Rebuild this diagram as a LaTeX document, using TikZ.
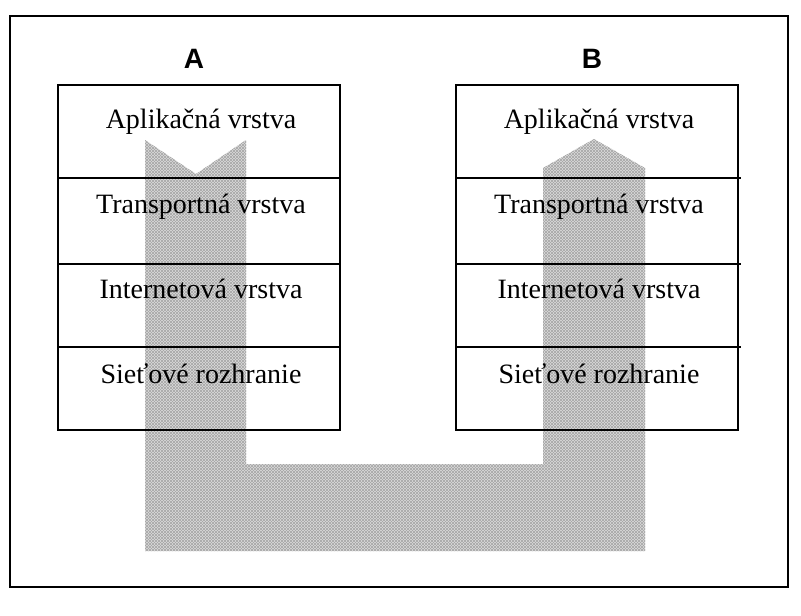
\documentclass[tikz,border=0pt]{standalone}
\usepackage{fontspec}
\setmainfont{Liberation Serif}
\newfontfamily\headfont{Liberation Sans}
\usetikzlibrary{patterns}
\begin{document}
\begin{tikzpicture}[x=1pt,y=-1pt,
    cell/.style={draw=black,line width=1.3pt},
    datapath/.style={preaction={fill=gray!28},preaction={pattern=north east lines,pattern color=gray!70},
        pattern=north west lines,pattern color=gray!70},
    hostlabel/.style={anchor=base,inner sep=0pt,font=\headfont\bfseries\fontsize{28}{30}\selectfont},
    layertext/.style={anchor=base,inner sep=0pt,font=\fontsize{28}{30}\selectfont}]
    \useasboundingbox (0,0) rectangle (801,616);
    % Draw the frame
    \draw[line width=2pt] (10,16) rectangle (788,587);
    % Draw the data path (down in A, across, up in B)
    \fill[datapath] (145,140) -- (196,174) -- (246,140) -- (246,464) -- (543,464) -- (543,168)
        -- (594,139) -- (645,168) -- (645,551) -- (145,551) -- cycle;
    % Draw the two stacks
    \foreach \x/\n/\m in {58/A/0,456/B/3} {
            \draw[cell] (\x,85) rectangle ++(282,345);
            \foreach \y in {178,264,347} {
                    \draw[cell] (\x,\y) -- ++(282+\m,0);
                }
            \node[hostlabel] (host\n) at (\x+136,68) {\n};
            % Layer names
            \foreach \t/\y [count=\i] in {Aplikačná vrstva/128,Transportná vrstva/213,Internetová vrstva/298,Sieťové rozhranie/383} {
                    \node[layertext] (\n\i) at (\x+143,\y) {\t};
                }
        }
\end{tikzpicture}
\end{document}
